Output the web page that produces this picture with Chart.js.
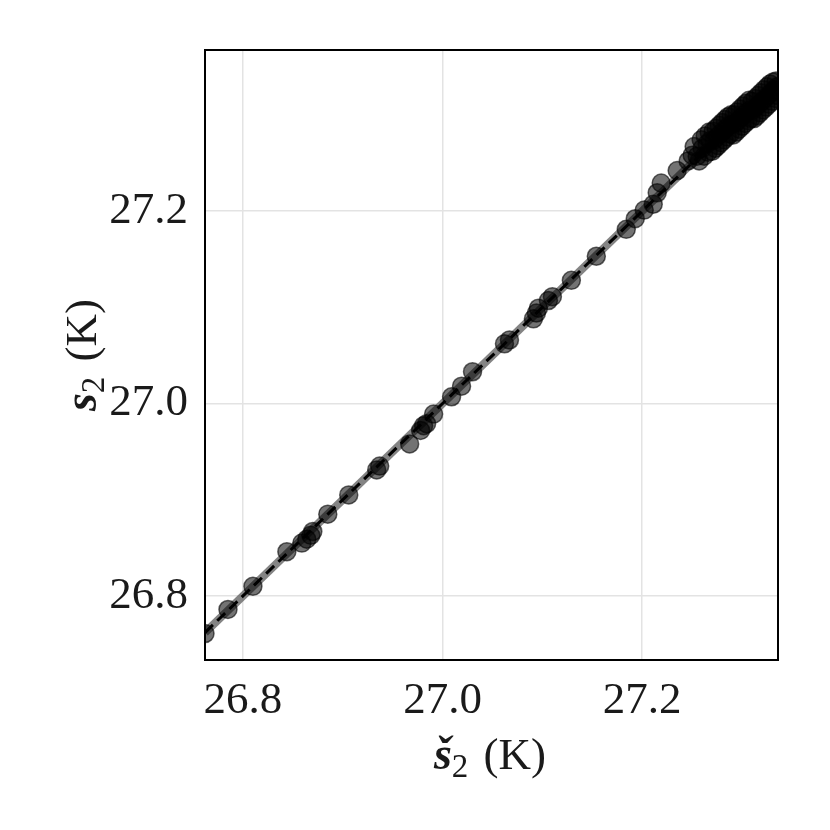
<!DOCTYPE html>
<html>
<head>
<meta charset="utf-8">
<script src="https://cdn.jsdelivr.net/npm/chart.js@4"></script>
<style>
html,body{margin:0;padding:0;background:#fff;}
#wrap{width:830px;height:830px;}
</style>
</head>
<body>
<div id="wrap"><canvas id="c" width="830" height="830"></canvas></div>
<script>
// Estimated (š2) values, K
const sHat = [
 26.762,26.785,26.810,26.844,26.859,26.864,26.868,26.870,26.885,26.906,
 26.934,26.937,26.967,26.978,26.981,26.984,26.991,27.009,27.019,27.030,
 27.062,27.067,27.091,27.094,27.096,27.106,27.110,27.129,27.154,27.184,
 27.193,27.202,27.211,27.215,27.219,27.235,27.246,27.250,
 27.252,27.255,27.257,27.259,27.260,27.262,27.263,27.265,27.266,27.267,
 27.268,27.270,27.271,27.272,27.273,27.274,27.275,27.276,27.277,27.278,
 27.279,27.280,27.281,27.282,27.283,27.284,27.285,27.286,27.287,27.288,
 27.289,27.290,27.291,27.292,27.293,27.294,27.295,27.296,27.297,27.298,
 27.299,27.300,27.301,27.302,27.303,27.304,27.305,27.306,27.307,27.308,
 27.309,27.310,27.311,27.312,27.313,27.314,27.315,27.316,27.317,27.318,
 27.319,27.320,27.321,27.322,27.323,27.324,27.325,27.326,27.327,27.328,
 27.329,27.330,27.331,27.332,27.333,27.334,27.335,27.336
];
// True (s2) values, K
const sTrue = [
 26.761,26.786,26.810,26.846,26.855,26.859,26.863,26.867,26.885,26.905,
 26.931,26.935,26.958,26.972,26.977,26.979,26.989,27.007,27.018,27.033,
 27.062,27.066,27.088,27.094,27.099,27.107,27.111,27.128,27.153,27.181,
 27.192,27.201,27.207,27.219,27.229,27.242,27.252,27.258,
 27.267,27.257,27.252,27.274,27.265,27.257,27.278,27.270,27.261,27.282,
 27.273,27.262,27.283,27.274,27.265,27.286,27.277,27.268,27.289,27.280,
 27.271,27.292,27.283,27.274,27.295,27.286,27.277,27.298,27.289,27.280,
 27.300,27.290,27.279,27.300,27.291,27.282,27.303,27.294,27.285,27.306,
 27.297,27.288,27.309,27.300,27.291,27.312,27.303,27.294,27.315,27.305,
 27.296,27.314,27.305,27.296,27.317,27.308,27.299,27.320,27.311,27.302,
 27.323,27.314,27.305,27.326,27.317,27.308,27.329,27.320,27.311,27.332,
 27.323,27.314,27.334,27.326,27.317,27.335,27.329,27.320
];
const xTicks = [26.8, 27.0, 27.2];
const yTicks = [26.8, 27.0, 27.2];
const xRange = [26.762, 27.336];
const yRange = [26.7335, 27.3673];
const identityLine = [xRange[0], xRange[1]];

const points = sHat.map((v, i) => ({x: v, y: sTrue[i]}));
const idPts = identityLine.map(v => ({x: v, y: v}));

const FONT = "'Liberation Serif', 'DejaVu Serif', serif";

const framePlugin = {
  id: 'frame',
  afterDraw(chart) {
    const {ctx, chartArea: a} = chart;
    ctx.save();
    ctx.strokeStyle = '#000';
    ctx.lineWidth = 2;
    ctx.strokeRect(a.left, a.top, a.right - a.left, a.bottom - a.top);
    ctx.restore();
    function drawTitle(cx, cy, rot, caron) {
      ctx.save();
      ctx.translate(cx, cy);
      ctx.rotate(rot);
      ctx.fillStyle = '#1a1a1a';
      ctx.textBaseline = 'alphabetic';
      const main = caron ? 'š' : 's';
      const f1 = "bold italic 46px " + FONT;
      const f2 = "33px " + FONT;
      const f3 = "45px " + FONT;
      ctx.font = f1; const w1 = ctx.measureText(main).width;
      ctx.font = f2; const w2 = ctx.measureText('2').width;
      ctx.font = f3; const w3 = ctx.measureText(' (K)').width;
      const total = w1 + w2 + 4 + w3;
      let x = -total / 2;
      const base = 14;
      ctx.font = f1; ctx.fillText(main, x, base); x += w1;
      ctx.font = f2; ctx.fillText('2', x, base + 8); x += w2 + 4;
      ctx.font = f3; ctx.fillText(' (K)', x, base);
      ctx.restore();
    }
    drawTitle(490, 755, 0, true);
    drawTitle(82, 355, -Math.PI / 2, false);
  }
};

new Chart(document.getElementById('c'), {
  type: 'scatter',
  data: {
    datasets: [
      {
        type: 'line', data: idPts, borderColor: '#000', borderWidth: 3,
        borderDash: [11, 6], pointRadius: 0, fill: false, order: 0
      },
      {
        data: points, backgroundColor: 'rgba(0,0,0,0.55)',
        borderColor: 'rgba(0,0,0,0.6)', borderWidth: 1.5,
        pointRadius: 9, pointHoverRadius: 9, order: 1
      },
      {
        type: 'line', data: idPts, borderColor: 'rgba(110,110,110,0.85)', borderWidth: 8,
        pointRadius: 0, fill: false, order: 2
      }
    ]
  },
  options: {
    responsive: false,
    animation: false,
    events: [],
    layout: {padding: {left: 0, top: 50, right: 52, bottom: 0}},
    plugins: {legend: {display: false}, tooltip: {enabled: false}},
    scales: {
      x: {
        type: 'linear', min: xRange[0], max: xRange[1],
        afterBuildTicks: s => { s.ticks = xTicks.map(v => ({value: v})); },
        afterFit: s => { s.height = 170; },
        grid: {color: '#e3e3e3', lineWidth: 1.5, drawTicks: false},
        border: {display: false},
        ticks: {
          padding: 14, color: '#1a1a1a', font: {family: FONT, size: 45},
          callback: v => v.toFixed(1), maxRotation: 0
        }
      },
      y: {
        type: 'linear', min: yRange[0], max: yRange[1],
        afterBuildTicks: s => { s.ticks = yTicks.map(v => ({value: v})); },
        afterFit: s => { s.width = 205; },
        grid: {color: '#e3e3e3', lineWidth: 1.5, drawTicks: false},
        border: {display: false},
        ticks: {
          padding: 17, color: '#1a1a1a', font: {family: FONT, size: 45},
          callback: v => v.toFixed(1)
        }
      }
    }
  },
  plugins: [framePlugin]
});
</script>
</body>
</html>
